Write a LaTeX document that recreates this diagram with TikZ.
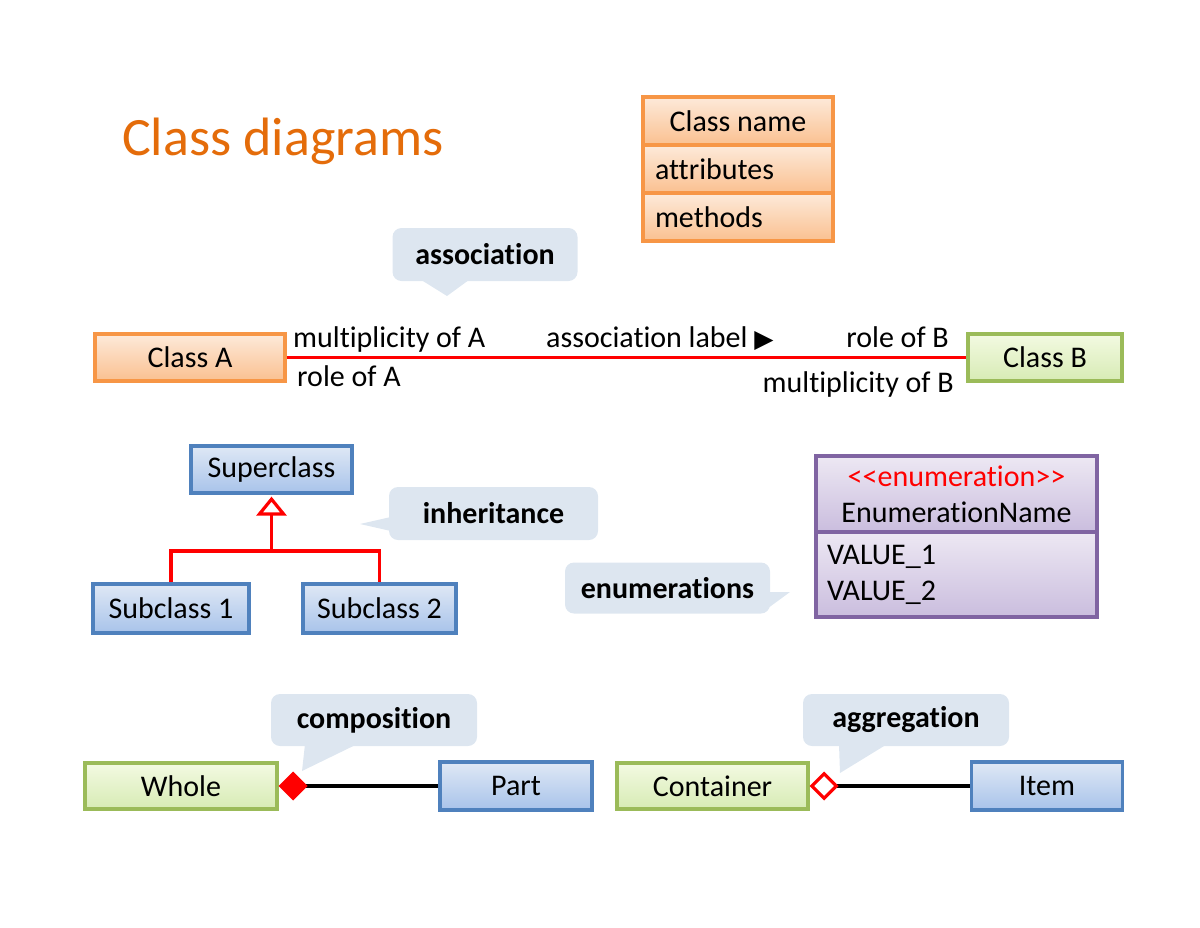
\documentclass[tikz,border=0pt]{standalone}
\usepackage{fontspec}
\setmainfont{Carlito}[Ligatures=NoCommon,Contextuals=NoAlternate]
\newfontfamily\trifont{DejaVu Sans}
\usetikzlibrary{arrows.meta,positioning}
\definecolor{UmlOrange}{HTML}{F79646}
\definecolor{OrangeTop}{HTML}{FDEADA}
\definecolor{OrangeBot}{HTML}{FAC090}
\definecolor{UmlGreen}{HTML}{9BBB59}
\definecolor{GreenTop}{HTML}{F3FAE2}
\definecolor{GreenBot}{HTML}{D7EBB4}
\definecolor{UmlBlue}{HTML}{4F81BD}
\definecolor{BlueTop}{HTML}{DFE8F5}
\definecolor{BlueBot}{HTML}{A8C3EA}
\definecolor{UmlPurple}{HTML}{8064A2}
\definecolor{PurpleTop}{HTML}{EDE8F3}
\definecolor{PurpleBot}{HTML}{CABDDE}
\definecolor{NoteFill}{HTML}{DDE6F0}
\definecolor{TitleOrange}{HTML}{E46C0A}
\tikzset{
  umlbox/.style={line width=3.2pt,align=center,inner sep=0pt,font=\fontsize{30}{36}\selectfont},
  orangebox/.style={umlbox,draw=UmlOrange,top color=OrangeTop,bottom color=OrangeBot},
  greenbox/.style={umlbox,draw=UmlGreen,top color=GreenTop,bottom color=GreenBot},
  bluebox/.style={umlbox,draw=UmlBlue,top color=BlueTop,bottom color=BlueBot},
  purplebox/.style={umlbox,draw=UmlPurple,top color=PurpleTop,bottom color=PurpleBot},
  notebox/.style={fill=NoteFill,rounded corners=9pt,inner sep=0pt,font=\fontsize{30}{36}\selectfont\bfseries},
  notetail/.style={fill=NoteFill},
  lbl/.style={inner sep=0pt,font=\fontsize{30}{36}\selectfont},
  assocline/.style={line width=3.2pt,draw=red},
  inhline/.style={line width=3.2pt,draw=red},
  partline/.style={line width=3.2pt,draw=black}
}
\begin{document}
\begin{tikzpicture}[x=1pt,y=-1pt]
\useasboundingbox (0,0) rectangle (1200,927);
\node[anchor=base west,inner sep=0pt,text=TitleOrange,font=\fontsize{54}{64}\selectfont] (title) at (122,155) {Class diagrams};
\node[orangebox,minimum width=190pt,minimum height=48pt] (cname) at (738,121) {Class name};
\node[orangebox,minimum width=190pt,minimum height=48pt,text width=166pt,align=left,below=-3.2pt of cname] (cattr) {attributes};
\node[orangebox,minimum width=190pt,minimum height=48pt,text width=166pt,align=left,below=-3.2pt of cattr] (cmeth) {methods};
\node[notebox,minimum width=185pt,minimum height=53pt] (assocnote) at (485,254.5) {association};
\coordinate (assoctip) at (447,296);
\fill[notetail] ([xshift=-65pt,yshift=2pt]assocnote.south) -- (assoctip) -- ([xshift=-15pt,yshift=2pt]assocnote.south) -- cycle;
\node[orangebox,minimum width=190pt,minimum height=47pt] (clsA) at (190,357.5) {Class A};
\node[greenbox,minimum width=154pt,minimum height=47pt] (clsB) at (1045,357.5) {Class B};
\draw[assocline] (clsA.east) -- (clsB.west);
\node[lbl,anchor=base west] (multA) at (293,347) {multiplicity of A};
\node[lbl,anchor=base west] (roleA) at (297,386) {role of A};
\node[lbl,anchor=base west] (assoclbl) at (546,347) {association label {\trifont\fontsize{25}{30}\selectfont ▶}};
\node[lbl,anchor=base east] (roleB) at (949,347) {role of B};
\node[lbl,anchor=base east] (multB) at (954,392) {multiplicity of B};
\node[bluebox,minimum width=161pt,minimum height=47pt] (super) at (271.5,469.5) {Superclass};
\node[bluebox,minimum width=156pt,minimum height=49pt] (sub1) at (171,608.5) {Subclass 1};
\node[bluebox,minimum width=153pt,minimum height=49pt] (sub2) at (379.5,608.5) {Subclass 2};
\coordinate (split) at (271.5,551);
\draw[inhline] (sub1.north) |- (split) -| (sub2.north);
\draw[inhline,shorten >=2pt,-{Triangle[open,length=19pt,width=30pt]}] (split) -- (super.south);
\node[notebox,minimum width=209pt,minimum height=53pt] (inhnote) at (493.5,513.5) {inheritance};
\coordinate (inhtip) at (360,524);
\fill[notetail] ([xshift=2pt,yshift=-3.5pt]inhnote.west) -- (inhtip) -- ([xshift=2pt,yshift=-17.5pt]inhnote.west) -- cycle;
\node[purplebox,minimum width=281pt,minimum height=76pt] (enumhead) at (956.5,494) {\textcolor{red}{<\kern0pt<enumeration>\kern0pt>}\\EnumerationName};
\node[purplebox,minimum width=281pt,minimum height=85pt,text width=259pt,align=left,below=-3.2pt of enumhead] (enumvals) {VALUE\_1\\VALUE\_2};
\node[notebox,minimum width=205pt,minimum height=51pt] (enumnote) at (667.5,588) {enumerations};
\coordinate (enumtip) at (790,592);
\fill[notetail] ([xshift=-2pt,yshift=-4pt]enumnote.east) -- (enumtip) -- ([xshift=-2pt,yshift=-20pt]enumnote.east) -- cycle;
\node[greenbox,minimum width=192pt,minimum height=46pt] (whole) at (181,786) {Whole};
\node[bluebox,minimum width=152pt,minimum height=48pt] (part) at (516,786) {Part};
\draw[partline,{Diamond[length=29pt,width=29pt,color=red,fill=red]}-] (whole.east) -- (part.west);
\node[notebox,minimum width=206pt,minimum height=52pt] (compnote) at (374,720) {composition};
\coordinate (comptip) at (302,771);
\fill[notetail] ([xshift=-69pt,yshift=2pt]compnote.south) -- (comptip) -- ([xshift=-17pt,yshift=2pt]compnote.south) -- cycle;
\node[greenbox,minimum width=191pt,minimum height=46pt] (container) at (712.5,786) {Container};
\node[bluebox,minimum width=151pt,minimum height=48pt] (item) at (1047,786) {Item};
\draw[partline,{Diamond[open,length=29pt,width=29pt,color=red]}-] (container.east) -- (item.west);
\node[notebox,minimum width=206pt,minimum height=52pt] (aggnote) at (906,720) {aggregation};
\coordinate (aggtip) at (840,773);
\fill[notetail] ([xshift=-67pt,yshift=2pt]aggnote.south) -- (aggtip) -- ([xshift=-19pt,yshift=2pt]aggnote.south) -- cycle;
\end{tikzpicture}
\end{document}
